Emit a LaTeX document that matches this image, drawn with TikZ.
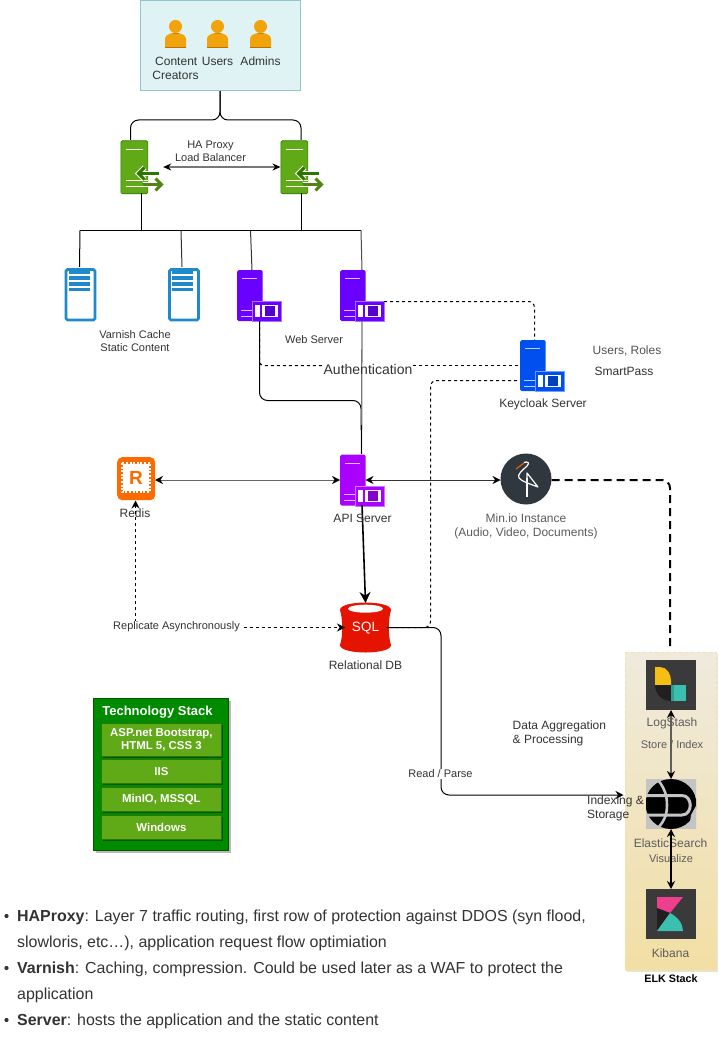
\documentclass[tikz,border=0pt]{standalone}
\usepackage{fontspec}
\setmainfont{Liberation Sans}
\usetikzlibrary{arrows.meta,shadows,calc}
\definecolor{txt}{HTML}{333333}
\definecolor{tealfill}{HTML}{DFF3F4}
\definecolor{tealline}{HTML}{8FC7CC}
\definecolor{userorange}{HTML}{F0A30A}
\definecolor{userdark}{HTML}{BD7000}
\definecolor{lbgreen}{HTML}{60A917}
\definecolor{lbdark}{HTML}{2D7600}
\definecolor{varblue}{HTML}{1F8ACB}
\definecolor{indigo}{HTML}{6A00FF}
\definecolor{apiviolet}{HTML}{AA00FF}
\definecolor{kcblue}{HTML}{0050EF}
\definecolor{redisorange}{HTML}{FF6A00}
\definecolor{sqlred}{HTML}{E51400}
\definecolor{minioslate}{HTML}{2F383E}
\definecolor{stackgreen}{HTML}{008A00}
\definecolor{stackdark}{HTML}{005700}
\definecolor{elktop}{HTML}{EFEADD}
\definecolor{elkbottom}{HTML}{F2DFA4}
\definecolor{elkline}{HTML}{F3E3A9}
\definecolor{logodark}{HTML}{3A3A3A}
\definecolor{esgrey}{HTML}{C4C4C4}
\definecolor{grayline}{HTML}{777777}
\definecolor{logoyellow}{HTML}{F5BE14}
\definecolor{logoteal}{HTML}{3BBFAE}
\definecolor{logotealdk}{HTML}{2AA090}
\definecolor{logopink}{HTML}{EE3F8E}
\definecolor{logoblack}{HTML}{231F20}
\tikzset{
  lbl/.style={font=\fontsize{11}{13}\selectfont,text=txt,inner sep=0pt,align=center},
  lblbig/.style={font=\fontsize{12}{14}\selectfont,text=txt,inner sep=0pt,align=center},
  auth/.style={font=\fontsize{14}{16}\selectfont,text=txt,inner sep=0pt},
  lblwhite/.style={lbl,fill=white,inner xsep=1pt,inner ysep=1pt},
  para/.style={font=\fontsize{15.95}{18}\selectfont,text=txt,inner sep=0pt,anchor=base west},
  wire/.style={draw=black,line width=1pt,rounded corners=8pt},
  wiregray/.style={draw=grayline,line width=1.3pt},
  dash1/.style={draw=black,line width=1pt,dash pattern=on 3pt off 3pt,rounded corners=6pt},
  dash2/.style={draw=black,line width=2pt,dash pattern=on 8pt off 5pt,rounded corners=8pt},
  tip/.style={-{Stealth[length=8pt,width=8pt]}},
  stackbox/.style={draw=lbdark,fill=lbgreen,line width=0.8pt,minimum width=120pt,inner sep=0pt,align=center,text=white,font=\fontsize{11.4}{13}\bfseries\selectfont,copy shadow={shadow xshift=1.5pt,shadow yshift=-1.5pt,fill=stackdark,draw=none}},
  logo/.style={minimum width=50pt,minimum height=50pt,inner sep=0pt,fill=logodark},
}
% user icon: centre x, top y
\newcommand{\usericon}[2]{%
  \fill[userorange] (#1,#2+6.5) circle (6.5);
  \fill[userorange] (#1-10.5,#2+28) -- (#1-10.5,#2+19) .. controls (#1-10.5,#2+15) and (#1-6,#2+14) .. (#1-3,#2+13) -- (#1+3,#2+13) .. controls (#1+6,#2+14) and (#1+10.5,#2+15) .. (#1+10.5,#2+19) -- (#1+10.5,#2+28) -- cycle;
  \draw[userdark,line width=0.7pt] (#1-10.5,#2+27.7) -- (#1+10.5,#2+27.7);
  \draw[userdark,line width=0.5pt,opacity=.6] (#1-3,#2+13) -- (#1+3,#2+13);
}
% load balancer icon
\newcommand{\lbicon}[3]{%
  \node[draw=lbdark,fill=lbgreen,line width=0.7pt,rounded corners=1.5pt,minimum width=27pt,minimum height=53pt,inner sep=0pt,anchor=north west] (#1) at (#2,#3) {};
  \draw[white,line width=0.9pt] (#2+5,#3+8.5) -- (#2+22,#3+8.5);
  \draw[white,line width=0.9pt] (#2+5,#3+39.5) -- (#2+27,#3+39.5);
  \draw[white,line width=0.9pt] (#2+5,#3+46) -- (#2+27,#3+46);
  \draw[white,line width=5.2pt,line join=miter] (#2+24,#3+27) -- (#2+18,#3+33) -- (#2+24,#3+39);
  \draw[white,line width=5.2pt] (#2+19,#3+33) -- (#2+38,#3+33);
  \draw[lbdark,line width=3pt,line join=miter] (#2+24,#3+27) -- (#2+18,#3+33) -- (#2+24,#3+39);
  \draw[lbdark,line width=3pt] (#2+19,#3+33) -- (#2+38,#3+33);
  \draw[white,line width=5.2pt] (#2+22,#3+44) -- (#2+40,#3+44);
  \draw[white,line width=5.2pt,line join=miter] (#2+35,#3+38) -- (#2+41,#3+44) -- (#2+35,#3+50);
  \draw[lbgreen!80!black,line width=3pt] (#2+22,#3+44) -- (#2+40,#3+44);
  \draw[lbgreen!80!black,line width=3pt,line join=miter] (#2+35,#3+38) -- (#2+41,#3+44) -- (#2+35,#3+50);
}
% varnish icon
\newcommand{\varnishicon}[3]{%
  \node[draw=varblue,fill=white,line width=2.6pt,rounded corners=1.5pt,minimum width=29pt,minimum height=50.5pt,inner sep=0pt,anchor=north west] (#1) at (#2+1.2,#3+1.2) {};
  \foreach \yy in {5.5,11,17,22.5}{\fill[varblue] (#2+5,#3+\yy-1.7) rectangle (#2+26,#3+\yy+1.7);}
}
% server with card
\newcommand{\servericon}[4]{%
  \node[fill=#4,rounded corners=1.5pt,minimum width=25.5pt,minimum height=51pt,inner sep=0pt,anchor=north west] (#1) at (#2,#3) {};
  \draw[white,opacity=.75,line width=1pt] (#2+5,#3+8.5) -- (#2+20,#3+8.5);
  \draw[white,opacity=.75,line width=1pt] (#2+4,#3+40) -- (#2+15,#3+40);
  \draw[white,opacity=.75,line width=1pt] (#2+4,#3+46) -- (#2+15,#3+46);
  \node[fill=#4,draw=#4!55!white,line width=0.8pt,minimum width=29pt,minimum height=20pt,inner sep=0pt,anchor=north west] (#1card) at (#2+15,#3+31) {};
  \fill[white] (#2+18,#3+35) rectangle (#2+23,#3+47);
  \fill[white] (#2+25,#3+35) rectangle (#2+41,#3+47);
  \fill[#4!80!black] (#2+28,#3+36) rectangle (#2+38,#3+46);
}
\begin{document}
\begin{tikzpicture}[x=1pt,y=-1pt]
\useasboundingbox (0,0) rectangle (718,1056);
\fill[white] (0,0) rectangle (718,1056);

% ---- users box
\node[draw=tealline,fill=tealfill,line width=0.9pt,minimum width=160pt,minimum height=90pt,inner sep=0pt,anchor=north west] (users) at (140,0.3) {};
\usericon{175.5}{20}
\usericon{217.5}{20}
\usericon{260.5}{20}
\node[lblbig,anchor=center] (creators) at (175.5,68) {\hspace*{1.5pt}Content\\Creators};
\node[lblbig] (userslbl) at (217.5,61) {Users};
\node[lblbig] (adminslbl) at (260.5,61) {Admins};

% ---- load balancers
\lbicon{lb1}{120.5}{140.5}
\lbicon{lb2}{280.5}{140.5}
\node[lbl] (lblha) at (210.5,151) {HA Proxy\\Load Balancer};

% ---- varnish
\varnishicon{var1}{63.5}{267}
\varnishicon{var2}{167}{267}
\node[lbl] (lblvar) at (135,341) {Varnish Cache\\Static Content};

% ---- web servers
\servericon{web1}{237}{270}{indigo}
\servericon{web2}{340}{270}{indigo}
\node[lbl] (lblweb) at (314,340) {Web Server};

% ---- keycloak
\servericon{kc}{520}{340}{kcblue}
\node[lblbig] (lblkc) at (543,404) {Keycloak Server};
\node[lblbig,text=txt!85!white] (lblroles) at (627,351) {Users, Roles};
\node[lblbig] (lblsmart) at (624,371) {SmartPass};

% ---- api
\servericon{api}{340}{454.5}{apiviolet}

% ---- redis
\node[fill=redisorange,rounded corners=5pt,minimum width=38pt,minimum height=43pt,inner sep=0pt,anchor=north west] (redis) at (117,457) {};
\fill[white] (123,464) rectangle (149,491);
\draw[white,line width=2pt,dash pattern=on 2pt off 1.6pt] (122,463) rectangle (150,492);
\node[font=\fontsize{19}{20}\bfseries\selectfont,text=redisorange,inner sep=0pt] (redisr) at (136,477.5) {R};
\node[lblbig] (lblredis) at (135,513.5) {Redis};

% ---- minio
\node[circle,fill=minioslate,minimum size=51pt,inner sep=0pt] (minio) at (526,479) {};
\draw[white,line width=1.2pt,line join=round] (524,462.5) .. controls (528,461) and (530,463) .. (527,466) .. controls (522,471) and (517,474) .. (519,478) .. controls (521,481) and (530,484) .. (538,487) -- (527,473) -- (527,482);
\draw[white,line width=1.3pt] (527,478) -- (527,497);
\draw[redisorange!90!black,line width=1.2pt] (516,469) -- (524,463);
\node[lblbig,text=txt!80!white] (lblminio) at (526,526) {Min.io Instance\\(Audio, Video, Documents)};

% ---- sql
\path[fill=sqlred] (340,610) .. controls (340,600) and (391,600) .. (391,610) .. controls (388,620) and (388,636) .. (391,645) .. controls (391,655) and (340,655) .. (340,645) .. controls (343,636) and (343,620) .. (340,610) -- cycle;
\fill[white] (365.5,608.7) ellipse (17.5 and 4);
\node[font=\fontsize{13.5}{14}\selectfont,text=white,inner sep=0pt] (sql) at (365.5,628.5) {SQL};
\coordinate (sqltop) at (365.5,603);
\coordinate (sqlright) at (386,627.5);
\coordinate (sqlleft) at (345,627.5);
\node[lblbig] (lbldb) at (365.5,665) {Relational DB};

% ---- technology stack
\node[fill=black!28,minimum width=135pt,minimum height=152pt,inner sep=0pt,anchor=north west] (stackshadow) at (96,701) {};
\node[draw=stackdark,fill=stackgreen,line width=0.8pt,minimum width=135pt,minimum height=152pt,inner sep=0pt,anchor=north west] (stack) at (93,698) {};
\node[text=white,inner sep=0pt,font=\fontsize{13}{15}\bfseries\selectfont] (stacktitle) at (157.5,712) {Technology Stack};
\node[stackbox,minimum height=33pt,anchor=north west] (st1) at (101,723) {ASP.net Bootstrap,\\HTML 5, CSS 3};
\node[stackbox,minimum height=24pt,anchor=north west] (st2) at (101,759) {IIS};
\node[stackbox,minimum height=24pt,anchor=north west] (st3) at (101,787) {MinIO, MSSQL};
\node[stackbox,minimum height=24pt,anchor=north west] (st4) at (101,815) {Windows};

% ---- elk panel
\fill[black!10] (627,654) rectangle (718,972);
\node[top color=elktop,bottom color=elkbottom,draw=elkline,dashed,line width=1pt,minimum width=91pt,minimum height=318pt,inner sep=0pt,anchor=north west] (elk) at (625,652) {};
\node[logo,anchor=north west] (logstash) at (646,660) {};
\fill[logoyellow] (655,667) -- (660,667) .. controls (667,667) and (671,674) .. (671,681) -- (671,685) -- (655,685) -- cycle;
\fill[logoblack] (655,685) -- (671,685) -- (671,701) .. controls (662,701) and (655,694) .. (655,685) -- cycle;
\fill[logoteal] (671,685) rectangle (686,701);
\fill[logotealdk] (671,685) rectangle (674,701);
\node[logo,fill=esgrey,anchor=north west] (elastic) at (646,779) {};
\begin{scope}
  \clip (646,779) rectangle (696,829);
  \fill[black] (671,804) ellipse (25.5 and 25);
  \draw[esgrey,line width=2.6pt] (658,780) .. controls (666,790) and (667,798) .. (667,805) .. controls (667,812) and (666,819) .. (658,828);
  \draw[esgrey,line width=3pt] (644,795.5) -- (682,795.5) .. controls (693,795.5) and (693,815) .. (682,815) -- (644,815);
  \fill[esgrey] (689,779) -- (697,779) -- (697,804) .. controls (695,794) and (693,785) .. (689,779) -- cycle;
  \fill[esgrey] (691,815) -- (697,804) -- (697,829) -- (689,829) -- cycle;
\end{scope}
\node[logo,anchor=north west] (kibana) at (646,889) {};
\fill[logopink] (657,897) -- (683,897) -- (670,913) -- (657,908) -- cycle;
\fill[logoblack] (657,908) -- (670,913) -- (657,931) -- cycle;
\fill[logoteal] (657,931) -- (670,913) .. controls (678,917) and (683,924) .. (683,931) -- cycle;
\node[lblbig,text=txt!80!white] (lbllog) at (672,723) {LogStash};
\node[lbl,text=txt!80!white] (lblstore) at (672,744.5) {Store / Index};
\node[lblbig,text=txt!80!white] (lbles) at (670.5,843) {ElasticSearch};
\node[lbl,text=txt!80!white] (lblvis) at (671,859) {Visualize};
\node[lblbig,text=txt!80!white] (lblkib) at (670.5,953) {Kibana};
\node[inner sep=0pt,font=\fontsize{10.8}{12}\bfseries\selectfont] (lblelk) at (671,979) {ELK Stack};

% ---- connector attach points
\coordinate (lb1top) at (130.5,140);
\coordinate (lb2top) at (301,140);
\coordinate (lb1bot) at (141.5,193.5);
\coordinate (lb2bot) at (301.5,193.5);
\coordinate (busl) at (80,230.5);
\coordinate (busr) at (361,230.5);
\coordinate (var1top) at (79.5,267);
\coordinate (var2top) at (182,267);
\coordinate (web1top) at (252,270);
\coordinate (web2top) at (362,270);
\coordinate (web1low) at (259.5,321);
\coordinate (web2low) at (362,321);
\coordinate (apitop) at (361.5,454);
\coordinate (apimid) at (362,505);
\coordinate (apileft) at (340,480);
\coordinate (apiright) at (365.5,480);
\coordinate (minioleft) at (500.5,480);
\coordinate (redisright) at (155,480);
\coordinate (redisbot) at (135.5,500.5);
\coordinate (kcleft) at (520,365.5);
\coordinate (kcleft2) at (517,380.5);
\coordinate (kctop) at (534.5,340);
\coordinate (web2card) at (384,301.5);
\coordinate (elkin) at (623.5,795);
\coordinate (elkdash) at (670,650);
\coordinate (miniors) at (551.5,480);
\coordinate (authl) at (323,365.5);
\coordinate (authr) at (413,365.5);

% ---- connectors
\path[wire] (users.south -| 220,90) -- (220,120) -- (130.5,120) -- (lb1top);
\path[wire] (users.south -| 220,90) -- (220,120) -- (301,120) -- (lb2top);
\draw[wiregray,{Stealth[length=8pt,width=7pt,black]}-{Stealth[length=8pt,width=7pt,black]}] (lb1.east |- 0,167) ++(15,0) -- (lb2.west |- 0,167);
\draw[black,line width=1pt] (lb1bot) -- (141.5,230.5);
\draw[black,line width=1pt] (lb2bot) -- (301.5,230.5);
\draw[black,line width=1pt] (busl) -- (busr);
\draw[black,line width=1pt] (busl) -- (var1top);
\draw[black!80,line width=1pt] (181,230.5) -- (var2top);
\draw[black!80,line width=1pt] (250.5,230.5) -- (web1top);
\draw[black!70,line width=1pt] (busr) -- (web2top);

\path[wire] (web1low) -- (259.5,400.5) -- (361,400.5) -- (361,430);
\draw[wiregray] (web2low) -- (apitop);
\draw[black,line width=1pt] (361.5,425) -- (apitop);
\draw[black,line width=1.6pt,-{Stealth[length=11pt,width=11pt]}] (apimid) -- (sqltop);

\path[dash1,rounded corners=4pt] (web1low) -- (259.5,365.5) -- (authl);
\path[dash1] (authr) -- (kcleft);
\path[dash1] (web2card) -- (534.5,301.5) -- (kctop);
\path[dash1] (kcleft2) -- (430.5,380.5) -- (430.5,627.5) -- (sqlright);
\node[auth] (lblauth) at (368,369) {Authentication};

\draw[{Stealth[length=8pt,width=8pt,black]}-{Stealth[length=8pt,width=8pt,black]},draw=black!60,line width=1pt] (redisright) -- (apileft);
\draw[{Stealth[length=8pt,width=8pt,black]}-{Stealth[length=8pt,width=8pt,black]},draw=black!80,line width=1pt] (apiright) -- (minioleft);
\path[dash2] (miniors) -- (670,480) -- (elkdash);

\path[wire,tip] (sqlright) -- (441,627.5) -- (441,795) -- (elkin);
\node[lblwhite] (lblread) at (440.5,774) {Read / Parse};

\draw[black,line width=1pt,dash pattern=on 3pt off 3pt,tip] (135.5,627.5) -- (redisbot);
\draw[black,line width=1pt,dash pattern=on 3pt off 3pt,tip] (135.5,627.5) -- (sqlleft);
\node[lblwhite] (lblrep) at (176.5,627) {Replicate Asynchronously};
\node[lblbig] (lblapi) at (362.5,518.5) {API Server};

\draw[{Stealth[length=8pt,width=8pt,black]}-{Stealth[length=8pt,width=8pt,black]},draw=black!60!elktop,line width=1.3pt] (671,710) -- (671,779);
\draw[{Stealth[length=8pt,width=8pt]}-{Stealth[length=8pt,width=8pt]},line width=1.3pt,black] (671,829) -- (671,889);

% ---- free labels
\node[lblbig,align=left,anchor=north west] (lblagg) at (512.5,720.5) {Data Aggregation\\\& Processing};
\node[lblbig,align=left,anchor=north west] (lblidx) at (587,795.5) {Indexing \&\\Storage};

% ---- bullets
\foreach \yy in {915,967,1019}{\fill[txt] (6.5,\yy+1) circle (2.1);}
\node[para] (p1) at (17,921) {\textbf{HAProxy}: Layer 7 traffic routing, first row of protection against DDOS (syn flood,};
\node[para] (p2) at (17,947) {slowloris, etc…), application request flow optimiation};
\node[para] (p3) at (17,973) {\textbf{Varnish}: Caching, compression. Could be used later as a WAF to protect the};
\node[para] (p4) at (17,999) {application};
\node[para] (p5) at (17,1025) {\textbf{Server}: hosts the application and the static content};
\end{tikzpicture}
\end{document}
